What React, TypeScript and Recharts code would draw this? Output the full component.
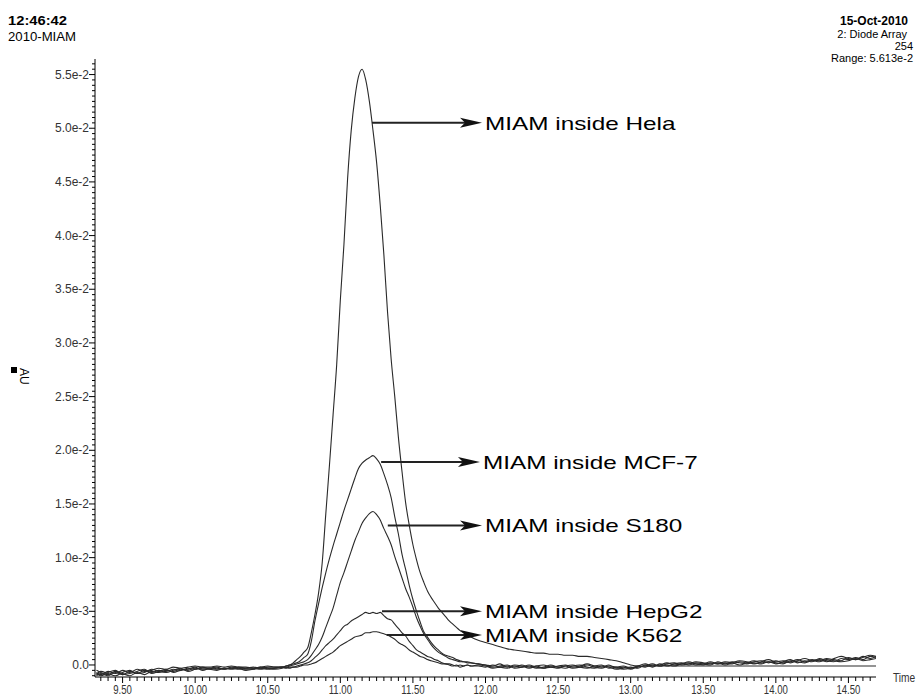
import React from 'react';
import { LineChart, Line, XAxis, YAxis, ReferenceLine } from 'recharts';

// retention time grid (min)
const times = [
  9.32, 9.35, 9.40, 9.45, 9.50, 9.55, 9.60, 9.65, 9.70, 9.75, 9.80, 9.85, 9.90, 9.95, 10.00, 10.05, 10.10, 10.15, 10.20, 10.25, 10.30, 10.35, 10.40, 10.45, 10.50, 10.55,
  10.600, 10.625, 10.650, 10.675, 10.700, 10.725, 10.750, 10.775, 10.800, 10.825, 10.850, 10.875, 10.900, 10.925, 10.950, 10.975,
  11.000, 11.025, 11.050, 11.075, 11.100, 11.125, 11.150, 11.175, 11.200, 11.225, 11.250, 11.275, 11.300, 11.325, 11.350, 11.375,
  11.400, 11.425, 11.450, 11.475, 11.500, 11.525, 11.550, 11.575, 11.600, 11.625, 11.650, 11.675, 11.700, 11.725, 11.750, 11.775,
  11.800, 11.825, 11.850, 11.875, 11.900,
  11.95, 12.00, 12.05, 12.10, 12.15, 12.20, 12.25, 12.30, 12.35, 12.40, 12.45, 12.50, 12.55, 12.60, 12.65, 12.70, 12.75, 12.80, 12.85, 12.90,
  12.95, 13.00, 13.05, 13.10, 13.15, 13.20, 13.25, 13.30, 13.35, 13.40, 13.45, 13.50, 13.55, 13.60, 13.65, 13.70, 13.75, 13.80, 13.85, 13.90,
  13.95, 14.00, 14.05, 14.10, 14.15, 14.20, 14.25, 14.30, 14.35, 14.40, 14.45, 14.50, 14.55, 14.60, 14.65, 14.69,
];

const helaAU = [
  -0.0007, -0.0009, -0.0006, -0.0008, -0.0005, -0.0007, -0.0004, -0.0006, -0.0005, -0.0003, -0.0004, -0.0002, -0.0003, -0.0002, -0.0001, -0.0002, -0.0002, -0.0001, -0.0002, -0.0001, -0.0002, -0.0002, -0.0003, -0.0002, -0.0001, -0.0002,
  -0.0002, -0.0001, 0.0000, 0.0002, 0.0005, 0.0008, 0.0012, 0.0016, 0.0030, 0.0047, 0.0067, 0.0095, 0.0141, 0.0186, 0.0233, 0.0280,
  0.0340, 0.0392, 0.0453, 0.0498, 0.0528, 0.0548, 0.0555, 0.0545, 0.0525, 0.0498, 0.0468, 0.0428, 0.0382, 0.0329, 0.0285, 0.0250,
  0.0212, 0.0180, 0.0151, 0.0130, 0.0112, 0.0098, 0.0086, 0.0077, 0.0069, 0.0063, 0.0058, 0.0053, 0.0049, 0.0045, 0.0041, 0.0038,
  0.0035, 0.0032, 0.0030, 0.0028, 0.0026,
  0.0023, 0.0021, 0.0019, 0.0017, 0.0015, 0.0014, 0.0013, 0.0012, 0.0011, 0.0011, 0.0010, 0.0010, 0.0009, 0.0009, 0.0008, 0.0008, 0.0007, 0.0006, 0.0005, 0.0004,
  0.0002, 0.0000, -0.0001, -0.0001, -0.0001, -0.0001, -0.0001, -0.0001, -0.0001, -0.0001, -0.0001, -0.0001, -0.0001, -0.0001, -0.0001, -0.0001, -0.0001, -0.0001, -0.0001, -0.0001,
  -0.0001, -0.0001, -0.0001, -0.0001, -0.0001, -0.0001, -0.0001, -0.0001, -0.0001, -0.0001, -0.0001, -0.0001, -0.0001, -0.0001, -0.0001, -0.0001,
];

const mcf7AU = [
  -0.0010, -0.0008, -0.0010, -0.0007, -0.0009, -0.0006, -0.0008, -0.0005, -0.0007, -0.0005, -0.0006, -0.0004, -0.0005, -0.0003, -0.0004, -0.0003, -0.0003, -0.0004, -0.0003, -0.0003, -0.0002, -0.0003, -0.0002, -0.0003, -0.0002, -0.0002,
  -0.0002, -0.0001, 0.0000, 0.0001, 0.0002, 0.0004, 0.0007, 0.0010, 0.0022, 0.0041, 0.0057, 0.0072, 0.0086, 0.0099, 0.0111, 0.0122,
  0.0133, 0.0144, 0.0154, 0.0164, 0.0174, 0.0183, 0.0188, 0.0191, 0.0193, 0.0195, 0.0192, 0.0187, 0.0178, 0.0168, 0.0156, 0.0138,
  0.0122, 0.0103, 0.0089, 0.0074, 0.0061, 0.0050, 0.0040, 0.0031, 0.0026, 0.0021, 0.0017, 0.0014, 0.0011, 0.0009, 0.0008, 0.0007,
  0.0005, 0.0004, 0.0003, 0.0003, 0.0002,
  0.0001, 0.0000, -0.0001, 0.0001, -0.0002, 0.0000, -0.0001, -0.0003, -0.0001, 0.0000, -0.0002, -0.0001, 0.0000, -0.0002, -0.0001, 0.0001, -0.0001, -0.0002, 0.0000, -0.0003,
  -0.0002, -0.0004, -0.0001, 0.0001, -0.0001, 0.0000, 0.0002, 0.0000, 0.0001, 0.0003, 0.0001, 0.0000, 0.0002, 0.0001, 0.0003, 0.0002, 0.0000, 0.0002, 0.0004, 0.0002,
  0.0003, 0.0001, 0.0003, 0.0005, 0.0002, 0.0004, 0.0003, 0.0006, 0.0004, 0.0003, 0.0006, 0.0005, 0.0007, 0.0005, 0.0008, 0.0007,
];

const s180AU = [
  -0.0005, -0.0007, -0.0009, -0.0006, -0.0008, -0.0010, -0.0007, -0.0009, -0.0006, -0.0007, -0.0005, -0.0006, -0.0004, -0.0005, -0.0003, -0.0004, -0.0004, -0.0003, -0.0004, -0.0003, -0.0004, -0.0003, -0.0003, -0.0004, -0.0003, -0.0003,
  -0.0002, -0.0002, -0.0001, 0.0000, 0.0001, 0.0002, 0.0003, 0.0005, 0.0009, 0.0014, 0.0019, 0.0026, 0.0035, 0.0044, 0.0053, 0.0065,
  0.0077, 0.0086, 0.0096, 0.0106, 0.0116, 0.0124, 0.0132, 0.0137, 0.0141, 0.0143, 0.0140, 0.0135, 0.0127, 0.0120, 0.0112, 0.0101,
  0.0091, 0.0081, 0.0071, 0.0063, 0.0054, 0.0044, 0.0036, 0.0029, 0.0024, 0.0019, 0.0015, 0.0012, 0.0010, 0.0008, 0.0006, 0.0005,
  0.0004, 0.0003, 0.0003, 0.0002, 0.0002,
  0.0001, 0.0000, -0.0002, -0.0001, 0.0000, -0.0003, -0.0002, 0.0000, -0.0002, -0.0003, -0.0001, -0.0002, -0.0003, -0.0001, 0.0000, -0.0002, -0.0003, -0.0001, -0.0002, -0.0004,
  -0.0003, -0.0002, -0.0003, 0.0000, -0.0002, 0.0001, -0.0001, 0.0001, 0.0002, 0.0000, 0.0002, 0.0001, 0.0000, 0.0003, 0.0001, 0.0003, 0.0002, 0.0001, 0.0003, 0.0004,
  0.0002, 0.0004, 0.0002, 0.0003, 0.0005, 0.0003, 0.0005, 0.0004, 0.0006, 0.0005, 0.0004, 0.0007, 0.0005, 0.0008, 0.0006, 0.0008,
];

const hepg2AU = [
  -0.0009, -0.0006, -0.0008, -0.0010, -0.0007, -0.0005, -0.0008, -0.0007, -0.0004, -0.0006, -0.0007, -0.0005, -0.0003, -0.0006, -0.0004, -0.0002, -0.0004, -0.0005, -0.0003, -0.0004, -0.0003, -0.0004, -0.0004, -0.0003, -0.0004, -0.0003,
  -0.0002, -0.0003, -0.0002, -0.0002, -0.0001, 0.0000, 0.0001, 0.0002, 0.0004, 0.0007, 0.0010, 0.0014, 0.0018, 0.0021, 0.0024, 0.0028,
  0.0032, 0.0036, 0.0038, 0.0041, 0.0043, 0.0045, 0.0047, 0.0049, 0.0048, 0.0049, 0.0048, 0.0049, 0.0046, 0.0043, 0.0042, 0.0038,
  0.0034, 0.0030, 0.0027, 0.0022, 0.0018, 0.0014, 0.0012, 0.0010, 0.0008, 0.0007, 0.0005, 0.0004, 0.0002, 0.0001, 0.0001, 0.0000,
  -0.0001, 0.0000, -0.0001, 0.0000, -0.0001,
  -0.0001, -0.0002, 0.0000, -0.0002, -0.0003, -0.0001, -0.0002, -0.0001, -0.0003, -0.0002, 0.0000, -0.0002, -0.0001, -0.0003, -0.0002, 0.0000, -0.0002, -0.0003, -0.0001, -0.0002,
  -0.0004, -0.0003, -0.0001, -0.0002, 0.0000, -0.0001, 0.0001, 0.0002, 0.0000, 0.0001, 0.0003, 0.0002, 0.0001, 0.0002, 0.0000, 0.0002, 0.0004, 0.0003, 0.0001, 0.0003,
  0.0005, 0.0003, 0.0004, 0.0002, 0.0004, 0.0006, 0.0004, 0.0005, 0.0003, 0.0006, 0.0008, 0.0006, 0.0005, 0.0007, 0.0009, 0.0008,
];

const k562AU = [
  -0.0008, -0.0010, -0.0007, -0.0005, -0.0009, -0.0008, -0.0006, -0.0004, -0.0008, -0.0006, -0.0004, -0.0007, -0.0005, -0.0004, -0.0002, -0.0005, -0.0003, -0.0002, -0.0004, -0.0002, -0.0003, -0.0005, -0.0004, -0.0002, -0.0003, -0.0004,
  -0.0003, -0.0002, -0.0003, -0.0002, -0.0002, -0.0001, 0.0000, 0.0000, 0.0001, 0.0002, 0.0004, 0.0006, 0.0008, 0.0010, 0.0012, 0.0015,
  0.0018, 0.0020, 0.0022, 0.0024, 0.0026, 0.0027, 0.0028, 0.0030, 0.0030, 0.0031, 0.0031, 0.0030, 0.0029, 0.0028, 0.0026, 0.0024,
  0.0021, 0.0019, 0.0017, 0.0014, 0.0012, 0.0010, 0.0008, 0.0007, 0.0005, 0.0004, 0.0003, 0.0002, 0.0001, 0.0001, 0.0000, -0.0001,
  0.0000, -0.0002, -0.0001, 0.0000, -0.0001,
  0.0000, -0.0001, -0.0003, -0.0002, -0.0001, -0.0002, 0.0000, -0.0002, -0.0001, -0.0003, -0.0002, -0.0003, -0.0001, 0.0000, -0.0002, -0.0003, -0.0001, 0.0000, -0.0003, -0.0002,
  -0.0001, -0.0003, -0.0002, -0.0001, 0.0001, -0.0001, 0.0000, -0.0001, 0.0001, 0.0002, 0.0000, 0.0001, 0.0003, 0.0001, 0.0002, 0.0001, 0.0003, 0.0002, 0.0002, 0.0001,
  0.0003, 0.0002, 0.0001, 0.0004, 0.0003, 0.0002, 0.0004, 0.0003, 0.0005, 0.0004, 0.0003, 0.0004, 0.0006, 0.0004, 0.0005, 0.0006,
];

const seriesList = [
  { name: 'Hela', values: helaAU },
  { name: 'MCF-7', values: mcf7AU },
  { name: 'S180', values: s180AU },
  { name: 'HepG2', values: hepg2AU },
  { name: 'K562', values: k562AU },
];

const xMajorTicks = [9.5, 10.0, 10.5, 11.0, 11.5, 12.0, 12.5, 13.0, 13.5, 14.0, 14.5];
const xMajorLabels = ['9.50', '10.00', '10.50', '11.00', '11.50', '12.00', '12.50', '13.00', '13.50', '14.00', '14.50'];
const yMajorTicks = [0, 0.005, 0.01, 0.015, 0.02, 0.025, 0.03, 0.035, 0.04, 0.045, 0.05, 0.055];
const yMajorLabels = ['0.0', '5.0e-3', '1.0e-2', '1.5e-2', '2.0e-2', '2.5e-2', '3.0e-2', '3.5e-2', '4.0e-2', '4.5e-2', '5.0e-2', '5.5e-2'];

// annotation arrows: start time, tip time, AU level
const annotations = [
  { label: 'MIAM inside Hela', from: 11.218, to: 11.976, au: 0.0505 },
  { label: 'MIAM inside MCF-7', from: 11.281, to: 11.962, au: 0.0189 },
  { label: 'MIAM inside S180', from: 11.327, to: 11.976, au: 0.0130 },
  { label: 'MIAM inside HepG2', from: 11.287, to: 11.976, au: 0.0050 },
  { label: 'MIAM inside K562', from: 11.319, to: 11.976, au: 0.0028 },
];

const X_DOMAIN: [number, number] = [9.31, 14.69];
const Y_DOMAIN: [number, number] = [-0.00112, 0.05645];

const xMinorTicks: number[] = [];
for (let i = 0; i <= 106; i++) xMinorTicks.push(+(9.35 + i * 0.05).toFixed(2));
const yMinorTicks: number[] = [];
for (let i = -2; i <= 112; i++) yMinorTicks.push(+(i * 0.0005).toFixed(4));

const FONT = '"Liberation Sans", Arial, Helvetica, sans-serif';

const YTick = (props: any) => {
  const { x, y, payload } = props;
  const v = payload.value;
  const idx = yMajorTicks.findIndex((m) => Math.abs(m - v) < 1e-7);
  const major = idx >= 0;
  return (
    <g>
      <line x1={x - (major ? 6 : 3)} x2={x} y1={y} y2={y} stroke="#000" strokeWidth={1} />
      {major && (
        <text x={x - 6} y={y + 4} textAnchor="end" fontSize={12} fontFamily={FONT} fill="#333">
          {yMajorLabels[idx]}
        </text>
      )}
    </g>
  );
};

const XTick = (props: any) => {
  const { x, y, payload } = props;
  const v = payload.value;
  const idx = xMajorTicks.findIndex((m) => Math.abs(m - v) < 1e-6);
  const major = idx >= 0;
  return (
    <g>
      <line x1={x} x2={x} y1={y} y2={y + (major ? 6 : 4)} stroke="#000" strokeWidth={1} />
      {major && (
        <text
          transform={`translate(${x},${y + 17}) scale(0.8,1)`}
          textAnchor="middle"
          fontSize={12}
          fontFamily={FONT}
          fill="#333"
        >
          {xMajorLabels[idx]}
        </text>
      )}
    </g>
  );
};

const ArrowShape = (props: any) => {
  const { x1, y1, x2, label } = props;
  const y = y1;
  const head = `${x2},${y} ${x2 - 22},${y - 5} ${x2 - 17},${y} ${x2 - 22},${y + 5}`;
  return (
    <g>
      <line x1={x1} y1={y} x2={x2 - 17} y2={y} stroke="#222" strokeWidth={2} />
      <polygon points={head} fill="#111" />
      <text
        transform={`translate(${x2 + 3},${y + 7}) scale(1.28,1)`}
        fontSize={19}
        fontFamily={FONT}
        fill="#000"
      >
        {label}
      </text>
    </g>
  );
};

export default function App() {
  return (
    <div style={{ position: 'absolute', left: 0, top: 0, width: 916, height: 696, background: '#fff' }}>
      <LineChart width={916} height={696} margin={{ top: 59, right: 40, bottom: 0, left: 0 }}>
        <XAxis
          dataKey="t"
          type="number"
          domain={X_DOMAIN}
          allowDataOverflow
          ticks={xMinorTicks}
          interval={0}
          tick={<XTick />}
          tickLine={false}
          tickSize={0}
          tickMargin={0}
          axisLine={{ stroke: '#000', strokeWidth: 1 }}
          height={19}
        />
        <YAxis
          type="number"
          domain={Y_DOMAIN}
          allowDataOverflow
          ticks={yMinorTicks}
          interval={0}
          tick={<YTick />}
          tickLine={false}
          tickSize={0}
          tickMargin={0}
          axisLine={{ stroke: '#000', strokeWidth: 1 }}
          width={95}
        />
        {seriesList.map((s) => (
          <Line
            key={s.name}
            name={s.name}
            data={times.map((t, i) => ({ t, au: s.values[i] }))}
            dataKey="au"
            type="monotone"
            stroke="#2a2a2a"
            strokeWidth={1.1}
            dot={false}
            activeDot={false}
            isAnimationActive={false}
          />
        ))}
        {annotations.map((a) => (
          <ReferenceLine
            key={a.label}
            segment={[
              { x: a.from, y: a.au },
              { x: a.to, y: a.au },
            ]}
            shape={(p: any) => <ArrowShape {...p} label={a.label} />}
          />
        ))}
      </LineChart>
      <svg
        width={916}
        height={696}
        style={{ position: 'absolute', left: 0, top: 0, pointerEvents: 'none' }}
      >
        <g fontFamily={FONT} fontSize={11} fill="#000">
          <text x={8} y={25} fontWeight="bold" fontSize={12} textLength={59} lengthAdjust="spacingAndGlyphs">12:46:42</text>
          <text x={8} y={41} fontSize={12} textLength={68} lengthAdjust="spacingAndGlyphs">2010-MIAM</text>
          <text x={908} y={25} textAnchor="end" fontWeight="bold" fontSize={12}>15-Oct-2010</text>
          <text x={907} y={38} textAnchor="end">2: Diode Array</text>
          <text x={913} y={50} textAnchor="end">254</text>
          <text x={913} y={62} textAnchor="end">Range: 5.613e-2</text>
          <rect x={11} y={367} width={6} height={6} fill="#000" />
          <text transform="translate(20,368) rotate(90)" fontSize={12}>AU</text>
          <text transform="translate(893,682) scale(0.85,1)" fontSize={12} fill="#333">Time</text>
        </g>
      </svg>
    </div>
  );
}
